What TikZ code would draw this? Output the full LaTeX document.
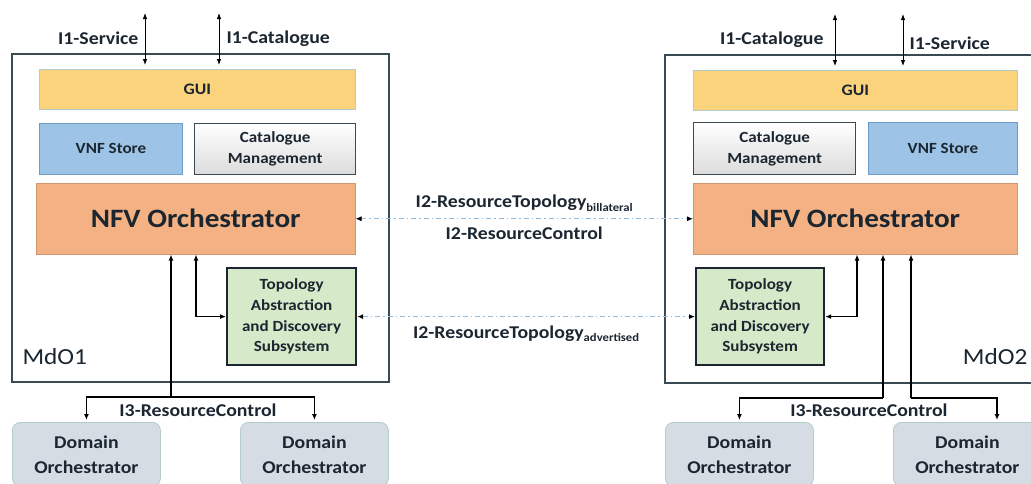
\documentclass[tikz,border=0pt]{standalone}
\usepackage{fontspec}
\setmainfont{Carlito}[FakeStretch=1.1]
\usetikzlibrary{positioning,arrows.meta}

\definecolor{txt}{HTML}{1B2631}
\definecolor{framec}{HTML}{3A4A52}
\definecolor{guifill}{HTML}{FAD37C}
\definecolor{vnffill}{HTML}{9DC3E6}
\definecolor{vnfline}{HTML}{6E9CC8}
\definecolor{nfvfill}{HTML}{F4B183}
\definecolor{topofill}{HTML}{D6E9C8}
\definecolor{domfill}{HTML}{D6DCE4}
\definecolor{domline}{HTML}{B2CCCA}
\definecolor{dashblue}{HTML}{92BCDD}

\newcommand{\lowtext}[1]{\raisebox{-0.45ex}{\fontsize{11.5}{12}\selectfont #1}}

\begin{document}
\begin{tikzpicture}[x=1pt,y=-1pt,
		part/.style={rectangle,anchor=north west,align=center,inner sep=2pt,text=txt,
			font=\fontsize{15.5}{20.7}\selectfont\bfseries},
		gui/.style={part,fill=guifill,draw=domline,line width=0.6pt,
			font=\fontsize{16}{20}\selectfont\bfseries},
		vnf/.style={part,fill=vnffill,draw=vnfline,line width=0.8pt},
		catm/.style={part,top color=white,bottom color=black!14,draw=framec,line width=1.4pt},
		nfv/.style={part,fill=nfvfill,draw=nfvfill!85!black,line width=0.5pt,
			font=\fontsize{26.5}{30}\selectfont\bfseries},
		topo/.style={part,fill=topofill,draw=txt,line width=2.2pt},
		dom/.style={part,fill=domfill,draw=domline,line width=0.8pt,rounded corners=8pt,
			minimum width=148pt,minimum height=64pt,font=\fontsize{18}{25}\selectfont\bfseries},
		mdo/.style={rectangle,anchor=north west,draw=framec,line width=2pt},
		lbl/.style={text=txt,font=\fontsize{18}{20}\selectfont\bfseries},
		mlbl/.style={text=txt,font=\fontsize{23}{26}\selectfont},
		marrow/.style={-{Latex[length=6pt,width=5pt]},line width=1.5pt,draw=black},
		darrow/.style={{Latex[length=6pt,width=5pt]}-{Latex[length=6pt,width=5pt]},line width=1.5pt},
		iarrow/.style={{Latex[length=6pt,width=4.5pt]}-{Latex[length=6pt,width=4.5pt]},line width=0.8pt},
		dasharrow/.style={{Latex[length=6pt,width=5pt,color=black]}-{Latex[length=6pt,width=5pt,color=black]},
			draw=dashblue,line width=1pt,dash pattern=on 5pt off 3pt on 1.5pt off 3pt}]
		\useasboundingbox (0,0) rectangle (1031,483);

		% left domain MdO1
		\node [mdo,minimum width=377pt,minimum height=328pt] (mdo1) at (11,53) {};
		\node [mlbl,anchor=west] (mdo1-name) at (19,357) {MdO1};
		\node [gui,minimum width=316pt,minimum height=40pt] (gui1) at (39,69) {GUI};
		\node [vnf,minimum width=143pt,minimum height=51pt] (vnf1) at (39,123) {VNF Store};
		\node [catm,minimum width=161pt,minimum height=51pt] (cat1) at (194,123) {Catalogue\\Management};
		\node [nfv,minimum width=319pt,minimum height=71pt] (nfv1) at (36,183) {NFV Orchestrator};
		\node [topo,minimum width=129pt,minimum height=97pt] (topo1) at (226,267) {Topology\\Abstraction\\and Discovery\\Subsystem};
		\node [dom] (dom1a) at (12,422) {Domain\\Orchestrator};
		\node [dom] (dom1b) at (240,422) {Domain\\Orchestrator};

		% right domain MdO2
		\node [mdo,minimum width=380pt,minimum height=328pt] (mdo2) at (664,54) {};
		\node [mlbl,anchor=east] (mdo2-name) at (1031,357) {MdO2};
		\node [gui,minimum width=324pt,minimum height=40pt] (gui2) at (693,70) {GUI};
		\node [catm,minimum width=162pt,minimum height=52pt] (cat2) at (693,122) {Catalogue\\Management};
		\node [vnf,minimum width=149pt,minimum height=52pt] (vnf2) at (868,122) {VNF Store};
		\node [nfv,minimum width=324pt,minimum height=71pt] (nfv2) at (693,183) {NFV Orchestrator};
		\node [topo,minimum width=128pt,minimum height=97pt] (topo2) at (695,267) {Topology\\Abstraction\\and Discovery\\Subsystem};
		\node [dom] (dom2a) at (665,422) {Domain\\Orchestrator};
		\node [dom] (dom2b) at (893,422) {Domain\\Orchestrator};

		% I1 interfaces
		\coordinate (i1s-top) at (145,13);
		\coordinate (i1c-top) at (219,13);
		\coordinate (i2c-top) at (835,14);
		\coordinate (i2s-top) at (903,14);
		\draw [iarrow,shorten >=4pt] (i1s-top) to (i1s-top |- gui1.north);
		\draw [iarrow,shorten >=4pt] (i1c-top) to (i1c-top |- gui1.north);
		\draw [iarrow,shorten >=4pt] (i2c-top) to (i2c-top |- gui2.north);
		\draw [iarrow,shorten >=4pt] (i2s-top) to (i2s-top |- gui2.north);
		\node [lbl,anchor=east] (i1s-lbl) at (142,38) {I1-Service};
		\node [lbl,anchor=west] (i1c-lbl) at (223,39) {I1-Catalogue};
		\node [lbl,anchor=east] (i2c-lbl) at (827,40) {I1-Catalogue};
		\node [lbl,anchor=west] (i2s-lbl) at (906,43) {I1-Service};

		% I2 interfaces
		\draw [dasharrow] (nfv1.east) to
			node [lbl,above=3pt] (i2-top) {I2-ResourceTopology\lowtext{billateral}}
			node [lbl,below=4pt] (i2-ctl) {I2-ResourceControl} (nfv2.west);
		\draw [dasharrow] (topo1.east) to
			node [lbl,below=5pt] (i2-adv) {I2-ResourceTopology\lowtext{advertised}} (topo2.west);

		% inside MdO1
		\coordinate (k1) at (196,300);
		\draw [darrow] (nfv1.south -| k1) |- (topo1.west);
		\coordinate (j1) at (171,397);
		\draw [marrow] (j1) to (j1 |- nfv1.south);
		\draw [marrow,shorten >=2pt] (j1) -| (dom1a.north);
		\draw [marrow,shorten >=2pt] (j1) -| (dom1b.north);
		\node [lbl] (i3-left) at (198,410) {I3-ResourceControl};

		% inside MdO2
		\coordinate (k2) at (857,300);
		\draw [darrow] (nfv2.south -| k2) |- (topo2.east);
		\coordinate (j2a) at (883,398);
		\coordinate (j2b) at (911,398);
		\coordinate (d2b) at (997,398);
		\draw [marrow] (j2a) to (j2a |- nfv2.south);
		\draw [marrow] (j2b) to (j2b |- nfv2.south);
		\draw [marrow,shorten >=2pt] (j2a) -| (dom2a.north);
		\draw [marrow,shorten >=2pt] (j2b) -| (d2b |- dom2b.north);
		\node [lbl] (i3-right) at (869,410) {I3-ResourceControl};
	\end{tikzpicture}
\end{document}
